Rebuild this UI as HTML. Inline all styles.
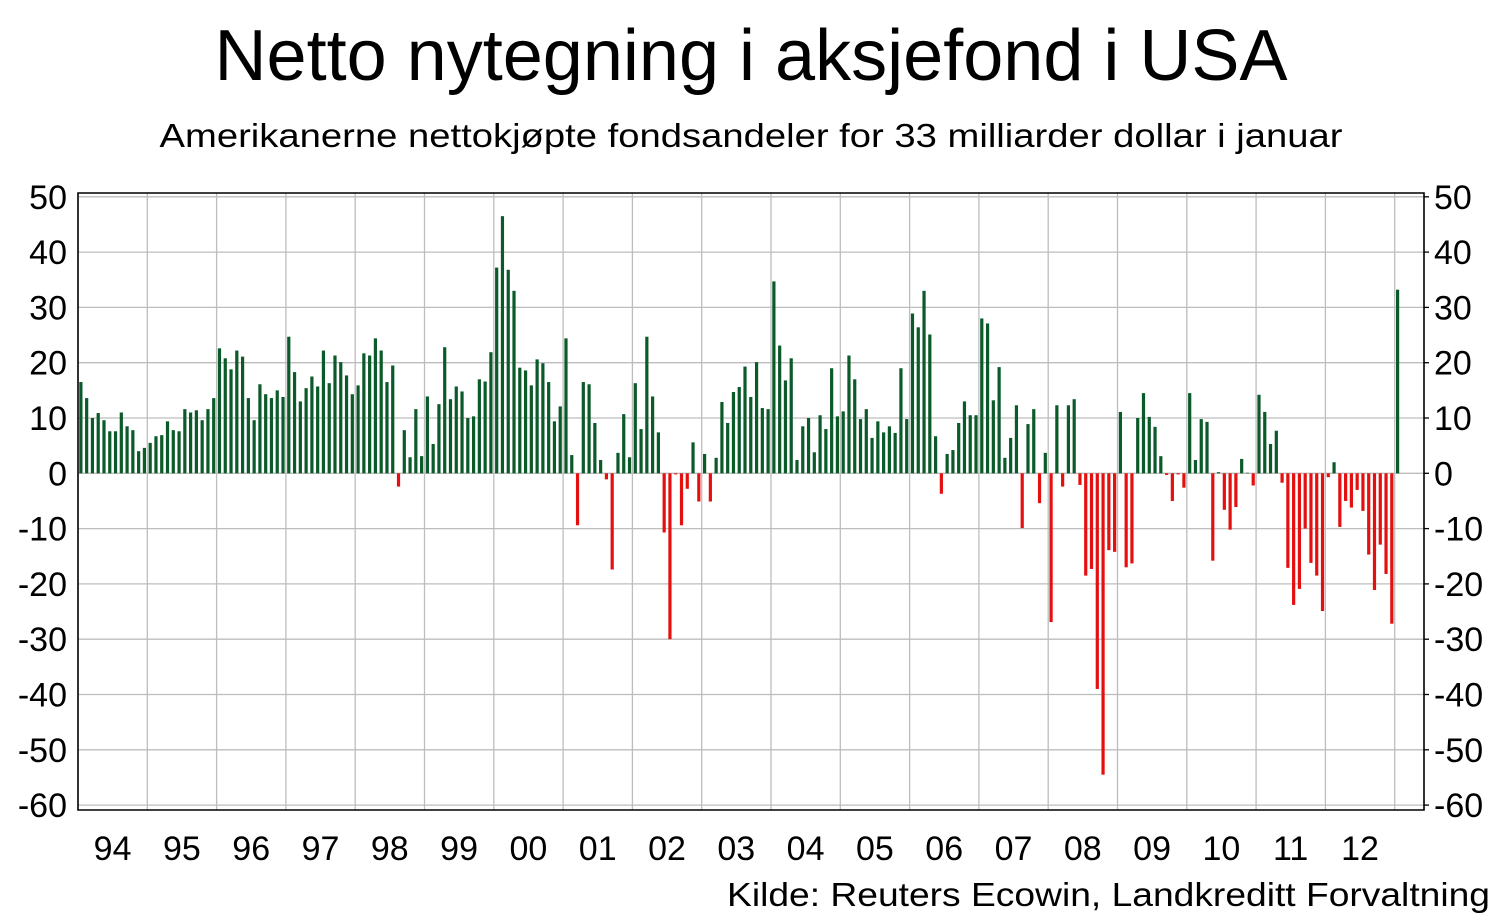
<!DOCTYPE html>
<html><head><meta charset="utf-8"><style>
html,body{margin:0;padding:0;background:#fff;}
svg{display:block;font-family:"Liberation Sans",sans-serif;}
</style></head><body>
<svg id="chart" width="1502" height="923" viewBox="0 0 1502 923" xmlns="http://www.w3.org/2000/svg">
<text x="751" y="80" font-size="72" text-anchor="middle" textLength="1073" lengthAdjust="spacingAndGlyphs">Netto nytegning i aksjefond i USA</text>
<text x="751" y="147" font-size="33" text-anchor="middle" textLength="1183" lengthAdjust="spacingAndGlyphs">Amerikanerne nettokjøpte fondsandeler for 33 milliarder dollar i januar</text>
<g id="grid"></g>
<g id="bars"></g>
<g id="axes"></g>
<text x="1490" y="906" font-size="33" text-anchor="end" textLength="763" lengthAdjust="spacingAndGlyphs">Kilde: Reuters Ecowin, Landkreditt Forvaltning</text>
</svg>
<script>
const yearLabels = ["94","95","96","97","98","99","00","01","02","03","04","05","06","07","08","09","10","11","12"];
const yTicks = [50,40,30,20,10,0,-10,-20,-30,-40,-50,-60];
const v1994 = [16.5,13.6,10,10.9,9.6,7.6,7.6,11,8.5,7.8,4,4.6];
const v1995 = [5.5,6.7,6.9,9.4,7.8,7.6,11.6,11,11.4,9.6,11.6,13.6];
const v1996 = [22.6,20.8,18.8,22.2,21.1,13.6,9.6,16.1,14.3,13.6,15,13.8];
const v1997 = [24.7,18.3,13,15.4,17.5,15.7,22.2,16.3,21.3,20.1,17.7,14.3];
const v1998 = [15.9,21.7,21.3,24.4,22.2,16.5,19.5,-2.4,7.8,2.9,11.6,3.1];
const v1999 = [13.9,5.3,12.5,22.8,13.4,15.7,14.8,10,10.3,17,16.6,21.9];
const v2000 = [37.2,46.5,36.8,33,19.1,18.6,15.9,20.6,19.9,16.5,9.4,12.1];
const v2001 = [24.4,3.3,-9.4,16.5,16.1,9.1,2.4,-1.1,-17.4,3.7,10.7,2.9];
const v2002 = [16.3,8,24.7,13.9,7.4,-10.7,-30,-0.2,-9.4,-2.8,5.6,-5.1];
const v2003 = [3.5,-5.1,2.8,12.9,9.1,14.7,15.6,19.3,13.8,20.1,11.8,11.6];
const v2004 = [34.7,23.1,16.8,20.8,2.4,8.5,10,3.8,10.5,8,19,10.3];
const v2005 = [11.2,21.3,17,9.8,11.6,6.4,9.4,7.4,8.5,7.3,19,9.8];
const v2006 = [28.9,26.4,33,25.1,6.7,-3.7,3.5,4.2,9.1,13,10.5,10.5];
const v2007 = [28,27.1,13.2,19.2,2.8,6.4,12.3,-9.9,8.9,11.6,-5.4,3.7];
const v2008 = [-26.9,12.3,-2.4,12.3,13.4,-2.1,-18.5,-17.3,-39,-54.5,-13.9,-14.2];
const v2009 = [11.1,-17,-16.3,10,14.5,10.2,8.4,3.1,-0.3,-5,-0.2,-2.6];
const v2010 = [14.5,2.4,9.8,9.3,-15.8,0.2,-6.6,-10.2,-6.1,2.6,0.1,-2.2];
const v2011 = [14.2,11.1,5.3,7.7,-1.7,-17.1,-23.8,-20.9,-10,-16.2,-18.5,-24.9];
const v2012 = [-0.7,2,-9.7,-5,-6.2,-3,-6.8,-14.7,-21.1,-12.9,-18.2,-27.2];
const v2013 = [33.2];
const values = [].concat(v1994,v1995,v1996,v1997,v1998,v1999,v2000,v2001,v2002,v2003,v2004,v2005,v2006,v2007,v2008,v2009,v2010,v2011,v2012,v2013);

const NS = "http://www.w3.org/2000/svg";
const L = 78, R = 1424, TOP = 193, BOT = 810;
const Y0 = 473.3, PX = 5.53;
const monthW = 69.3 / 12;
function y(v){ return Y0 - v * PX; }
function xMonth(i){ return L + (i + 0.5) * monthW; }
function xYear(k){ return L + k * 69.3; }
function mk(tag, attrs, parent){ const e = document.createElementNS(NS, tag); for (const k in attrs) e.setAttribute(k, attrs[k]); parent.appendChild(e); return e; }

const grid = document.getElementById('grid');
const bars = document.getElementById('bars');
const axes = document.getElementById('axes');

yTicks.forEach(t => {
  const gl = mk('line', {x1:L, x2:R, y1:y(t), y2:y(t), stroke:'#bdbdbd', 'stroke-width':1.3}, grid);
  
  
  const lt = mk('text', {x:67, y:y(t)+12, 'font-size':34, 'text-anchor':'end'}, axes);
  
  
  lt.textContent = t;
  const rt = mk('text', {x:1434, y:y(t)+12, 'font-size':34, 'text-anchor':'start'}, axes);
  
  
  rt.textContent = t;
  const tk = mk('line', {x1:R, x2:R+5, y1:y(t), y2:y(t), stroke:'#000', 'stroke-width':1.3}, axes);
  
  
});

for (let k = 1; k < yearLabels.length + 1; k++) {
  const gx = xYear(k);
  if (gx < R) {
    const vl = mk('line', {x1:gx, x2:gx, y1:TOP, y2:BOT, stroke:'#bdbdbd', 'stroke-width':1.3}, grid);
    
    
  }
}
yearLabels.forEach((lab, k) => {
  const t = mk('text', {x:xYear(k) + 34.6, y:860, 'font-size':34, 'text-anchor':'middle'}, axes);
  
  
  t.textContent = lab;
});

values.forEach((v, i) => {
  const x = xMonth(i);
  const top = Math.min(y(v), Y0), h = Math.abs(y(v) - Y0);
  const b = mk('rect', {x:x - 1.6, y:top, width:3.2, height:Math.max(h, 0.5), fill: v >= 0 ? '#0b5a29' : '#e60f0f'}, bars);
  
  
});

const frame = mk('path', {d:`M${L},${TOP} H${R} V${BOT} H${L} Z`, fill:'none', stroke:'#000', 'stroke-width':1.6}, axes);


</script>
</body></html>
